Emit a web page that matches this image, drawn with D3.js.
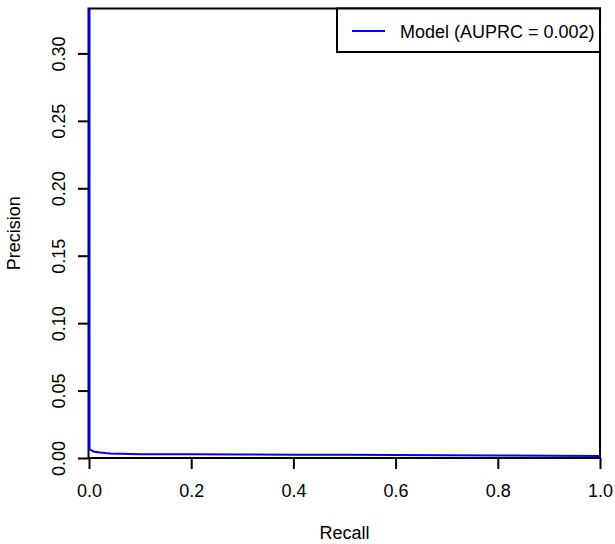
<!DOCTYPE html>
<html><head><meta charset="utf-8">
<script src="https://cdn.jsdelivr.net/npm/d3@7"></script>
<style>body{margin:0;background:#fff}svg{display:block}text{font-family:"Liberation Sans",Arial,sans-serif;fill:#000}</style>
</head><body>
<svg id="c" width="615" height="544"></svg>
<script>
const recall = [0, 0, 0.003, 0.006, 0.01, 0.02, 0.03, 0.04, 0.06, 0.08, 0.1, 0.15, 0.2, 0.3, 0.4, 0.5, 0.6, 0.7, 0.8, 0.9, 1.0];
const precision = [0.3333, 0.0062, 0.0058, 0.0052, 0.0047, 0.0041, 0.0037, 0.0034, 0.0031, 0.0029, 0.0028, 0.0027, 0.0027, 0.0026, 0.0025, 0.0024, 0.0023, 0.0021, 0.0019, 0.0017, 0.0015];
const xTicks = [0, 0.2, 0.4, 0.6, 0.8, 1.0];
const yTicks = [0, 0.05, 0.10, 0.15, 0.20, 0.25, 0.30];
const legendLabel = "Model (AUPRC = 0.002)";

const FS = 18;
const FF = '"Liberation Sans",Arial,sans-serif';
const svg = d3.select("#c");
const L = 89, R = 600, T = 8.5, B = 458;
const x = d3.scaleLinear().domain([0, 1]).range([L, R]);
const y = d3.scaleLinear().domain([0, 0.3333]).range([B, T]);

// box
svg.append("rect").attr("x", L - 0.5).attr("y", T).attr("width", R - L + 0.5).attr("height", B - T)
  .attr("fill", "none").attr("stroke", "#000").attr("stroke-width", 2);

// curve (drawn over the box, like the reference)
svg.append("path")
  .datum(recall.map((r, i) => [r, precision[i]]))
  .attr("fill", "none").attr("stroke", "#0000ff").attr("stroke-width", 2)
  .attr("transform", "translate(0.5,0)")
  .attr("d", d3.line().x(d => x(d[0])).y(d => y(d[1])));

// x axis
const xa = svg.append("g").attr("transform", `translate(0,${B})`)
  .call(d3.axisBottom(x).tickValues(xTicks).tickFormat(d3.format(".1f")).tickSize(11));
xa.select(".domain").remove();
xa.selectAll("line").attr("stroke-width", 2);
xa.selectAll("text").attr("font-size", FS).style("font-family", FF)
  .attr("y", 39).attr("dy", null);

// y axis
const ya = svg.append("g").attr("transform", `translate(${L},0)`)
  .call(d3.axisLeft(y).tickValues(yTicks).tickFormat(d3.format(".2f")).tickSize(11));
ya.select(".domain").remove();
ya.selectAll("line").attr("stroke-width", 2);
ya.selectAll("text").attr("font-size", FS).style("font-family", FF)
  .attr("text-anchor", "middle").attr("dy", null).attr("x", null).attr("y", 0)
  .attr("transform", "translate(-24.5,0) rotate(-90)");

// axis titles
svg.append("text").attr("x", (L + R) / 2).attr("y", 539).attr("text-anchor", "middle")
  .attr("font-size", FS).text("Recall");
svg.append("text").attr("transform", `translate(20,${(T + B) / 2}) rotate(-90)`)
  .attr("text-anchor", "middle").attr("font-size", FS).text("Precision");

// legend
svg.append("rect").attr("x", 337).attr("y", T).attr("width", R - 337).attr("height", 52 - T)
  .attr("fill", "#fff").attr("stroke", "#000").attr("stroke-width", 2);
svg.append("line").attr("x1", 352).attr("x2", 385).attr("y1", 31).attr("y2", 31)
  .attr("stroke", "#0000ff").attr("stroke-width", 2);
svg.append("text").attr("x", 400).attr("y", 37.5).attr("font-size", FS).text(legendLabel);
</script>
</body></html>
